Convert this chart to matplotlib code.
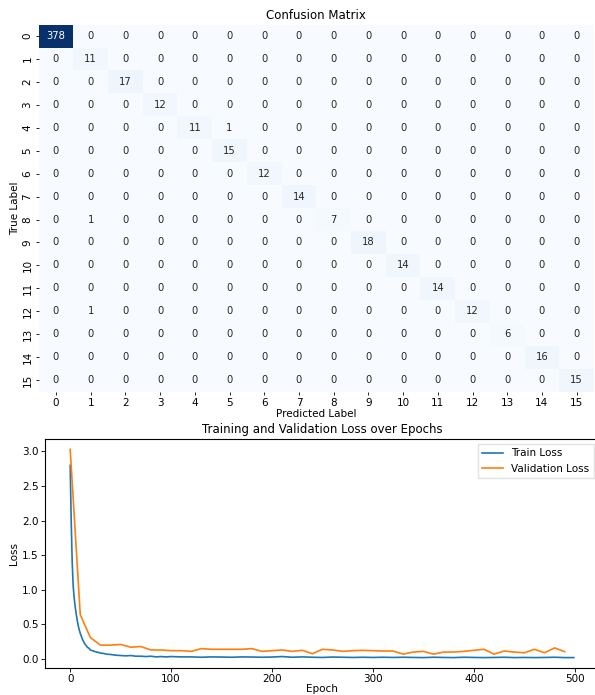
import numpy as np
import matplotlib
matplotlib.use("Agg")
import matplotlib.pyplot as plt
import seaborn as sns

plt.rcParams['font.family'] = ['DejaVu Sans']

# ---------------- data ----------------
labels = list(range(16))
diag_counts = [378, 11, 17, 12, 11, 15, 12, 14, 7, 18, 14, 14, 12, 6, 16, 15]
# off-diagonal errors: (true, predicted, count)
off_diag = [(4, 5, 1), (8, 1, 1), (12, 1, 1)]

train_epochs = [0, 1, 2, 3, 4, 5, 6, 7, 8, 9, 10, 11, 12, 13, 14, 15, 16, 17, 18, 19,
                20, 22, 24, 26, 28, 30, 33, 36, 40, 45, 50, 55, 60, 65, 70, 75, 80, 85,
                90, 95, 100, 110, 120, 130, 140, 150, 160, 170, 180, 190, 200, 210, 220,
                230, 240, 250, 260, 270, 280, 290, 300, 310, 320, 330, 340, 350, 360,
                370, 380, 390, 400, 410, 420, 430, 440, 450, 460, 470, 480, 490, 499]
train_loss = [2.80, 2.00, 1.40, 1.05, 0.88, 0.75, 0.65, 0.56, 0.48, 0.42, 0.37, 0.33,
              0.29, 0.26, 0.23, 0.21, 0.19, 0.17, 0.16, 0.15, 0.13, 0.12, 0.11, 0.10,
              0.095, 0.085, 0.08, 0.07, 0.065, 0.055, 0.05, 0.045, 0.05, 0.04, 0.04,
              0.035, 0.04, 0.03, 0.035, 0.03, 0.035, 0.03, 0.03, 0.025, 0.03, 0.028,
              0.025, 0.03, 0.028, 0.025, 0.028, 0.035, 0.025, 0.03, 0.025, 0.022, 0.028,
              0.025, 0.022, 0.025, 0.022, 0.025, 0.022, 0.025, 0.022, 0.02, 0.025, 0.022,
              0.02, 0.025, 0.022, 0.02, 0.022, 0.025, 0.02, 0.022, 0.02, 0.022, 0.025,
              0.02, 0.02]

val_epochs = list(range(0, 500, 10))
val_loss = [3.03, 0.64, 0.31, 0.20, 0.20, 0.21, 0.17, 0.18, 0.13, 0.13,
            0.12, 0.12, 0.11, 0.15, 0.14, 0.14, 0.14, 0.14, 0.15, 0.11,
            0.12, 0.13, 0.11, 0.125, 0.076, 0.14, 0.13, 0.11, 0.12, 0.125,
            0.12, 0.115, 0.115, 0.07, 0.10, 0.11, 0.07, 0.10, 0.10, 0.11,
            0.125, 0.14, 0.07, 0.115, 0.10, 0.09, 0.14, 0.09, 0.16, 0.105]

# ---------------- figure ----------------
W, H = 595, 695
fig = plt.figure(figsize=(W / 100, H / 100), dpi=100)

def box(l, t, r, b):
    return [l / W, 1 - b / H, (r - l) / W, (b - t) / H]

cm = np.zeros((16, 16), dtype=int)
for i, v in enumerate(diag_counts):
    cm[i, i] = v
for t, p, c in off_diag:
    cm[t, p] = c

ax1 = fig.add_axes(box(38.6, 24.6, 594, 391.5))
sns.heatmap(cm, annot=True, fmt="d", cmap="Blues", cbar=False, ax=ax1,
            annot_kws={"fontsize": 7.2}, xticklabels=labels, yticklabels=labels)
ax1.set_title("Confusion Matrix", fontsize=8.5, pad=4)
ax1.set_xlabel("Predicted Label", fontsize=7.5, labelpad=1)
ax1.set_ylabel("True Label", fontsize=7.5, labelpad=2)
ax1.tick_params(axis="both", labelsize=7.5, length=2.5, width=0.6, pad=2)
plt.setp(ax1.get_yticklabels(), rotation=90, va="center")
plt.setp(ax1.get_xticklabels(), rotation=0)

ax2 = fig.add_axes(box(45, 439, 599, 668))
ax2.plot(train_epochs, train_loss, color="#1f77b4", lw=1.2, label="Train Loss")
ax2.plot(val_epochs, val_loss, color="#ff7f0e", lw=1.2, label="Validation Loss")
ax2.set_title("Training and Validation Loss over Epochs", fontsize=8.5, pad=4)
ax2.set_xlabel("Epoch", fontsize=7.5, labelpad=0)
ax2.set_ylabel("Loss", fontsize=7.5, labelpad=2)
ax2.tick_params(axis="both", labelsize=7.5, length=3, width=0.6, pad=1.5)
ax2.set_xticks([0, 100, 200, 300, 400, 500])
ax2.set_yticks([0.0, 0.5, 1.0, 1.5, 2.0, 2.5, 3.0])
for s in ax2.spines.values():
    s.set_linewidth(0.8)
ax2.legend(loc="upper right", fontsize=7.5, frameon=True, framealpha=0.8,
           edgecolor="#dddddd", fancybox=False)

fig.savefig("out.png", dpi=100)
